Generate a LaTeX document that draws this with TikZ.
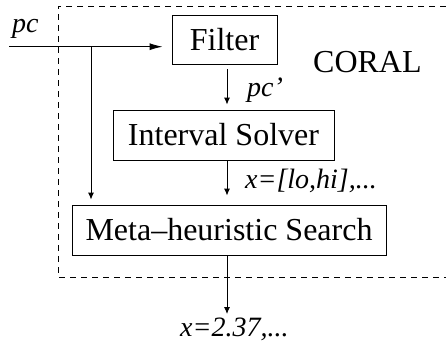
\documentclass[tikz,border=0pt]{standalone}
\usepackage{fontspec}
\setmainfont{Liberation Serif}
\usetikzlibrary{arrows.meta}
\begin{document}
\begin{tikzpicture}[x=1pt,y=-1pt,
  box/.style={draw,line width=0.9pt,inner sep=0pt,font=\fontsize{32}{36}\selectfont},
  lbl/.style={inner sep=0pt,font=\fontsize{28}{32}\selectfont\itshape},
  conn/.style={line width=0.9pt},
  vtip/.style={conn,-{Latex[length=7pt,width=6pt]}},
  htip/.style={conn,-{Latex[length=13pt,width=7pt]}},
  frame/.style={line width=0.8pt,dash pattern=on 6pt off 5pt}]
\useasboundingbox (0,0) rectangle (446,346);
% dashed CORAL frame
\draw[frame] (446,6) -- (58,6) -- (58,277) -- (446,277);
\node[anchor=base west,inner sep=0pt,font=\fontsize{32}{36}\selectfont] (coral) at (313,72) {CORAL};
% boxes
\node[box,minimum width=105pt,minimum height=49pt] (filter) at (224.5,39.5) {Filter};
\node[box,minimum width=221pt,minimum height=50pt] (interval) at (223.5,135) {Interval Solver};
\node[box,minimum width=314pt,minimum height=50pt] (meta) at (229,230) {Meta--heuristic Search};
% labels
\node[lbl,anchor=base west] (pc) at (12,32) {pc};
\node[lbl,anchor=base west] (pcp) at (247,96) {pc'};
\node[lbl,anchor=base west] (xint) at (245,188) {x=[lo,hi],...};
\node[lbl,anchor=base west] (xout) at (180,336) {x=2.37,...};
% connectors
\coordinate (in) at (9,46.7);
\coordinate (br) at (91,46.7);
\coordinate (ax) at (227,0);
\draw[htip,shorten >=9pt] (in) -- (filter.west |- in);
\draw[vtip,shorten >=5pt] (br) -- (meta.north -| br);
\draw[vtip,shorten <=5pt,shorten >=5pt] (filter.south -| ax) -- (interval.north -| ax);
\draw[vtip,shorten >=9pt] (interval.south -| ax) -- (meta.north -| ax);
\coordinate (outend) at (227,314);
\draw[vtip] (meta.south -| ax) -- (outend);
\end{tikzpicture}
\end{document}
